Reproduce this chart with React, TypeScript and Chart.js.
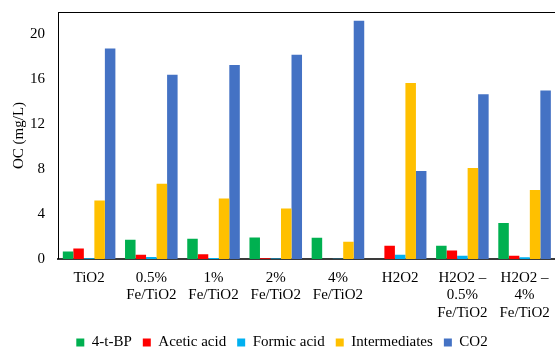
import React, { useEffect, useRef } from "react";
import { Chart, registerables } from "chart.js";

Chart.register(...registerables);

const categories: (string | string[])[] = [
  "TiO2",
  ["0.5%", "Fe/TiO2"],
  ["1%", "Fe/TiO2"],
  ["2%", "Fe/TiO2"],
  ["4%", "Fe/TiO2"],
  "H2O2",
  ["H2O2 \u2013", "0.5%", "Fe/TiO2"],
  ["H2O2 \u2013", "4%", "Fe/TiO2"],
];

const tbp = [0.65, 1.7, 1.79, 1.91, 1.88, 0, 1.17, 3.2];
const acetic = [0.92, 0.36, 0.42, 0.06, 0, 1.17, 0.74, 0.27];
const formic = [0.06, 0.18, 0.08, 0.04, 0.02, 0.36, 0.27, 0.15];
const intermediates = [5.2, 6.7, 5.38, 4.48, 1.52, 15.67, 8.1, 6.13];
const co2 = [18.74, 16.41, 17.28, 18.18, 21.23, 7.83, 14.68, 15.0];

const yTicks = [0, 4, 8, 12, 16, 20];

const FONT = "'Liberation Serif', 'Times New Roman', serif";

export default function App() {
  const ref = useRef<HTMLCanvasElement | null>(null);

  useEffect(() => {
    if (!ref.current) return;
    const chart = new Chart(ref.current, {
      type: "bar",
      data: {
        labels: categories as any,
        datasets: [
          { label: "4-t-BP", data: tbp, backgroundColor: "#00B050" },
          { label: "Acetic acid", data: acetic, backgroundColor: "#FF0000" },
          { label: "Formic acid", data: formic, backgroundColor: "#00B0F0" },
          { label: "Intermediates", data: intermediates, backgroundColor: "#FFC000" },
          { label: "CO2", data: co2, backgroundColor: "#4472C4" },
        ],
      },
      options: {
        responsive: false,
        animation: false,
        datasets: {
          bar: { categoryPercentage: 0.845, barPercentage: 1.0 },
        },
        layout: { padding: { left: 8, right: 4, top: 12, bottom: 0 } },
        plugins: {
          tooltip: { enabled: false },
          legend: {
            position: "bottom",
            labels: {
              boxWidth: 8,
              boxHeight: 8,
              padding: 11,
              color: "#000",
              font: { family: FONT, size: 15 },
            },
          },
        },
        scales: {
          x: {
            grid: { display: false, drawTicks: false },
            border: { display: true, color: "#3a3a3a", width: 2 },
            afterFit: (scale: any) => {
              scale.height = scale.height - 8;
            },
            ticks: {
              color: "#000",
              padding: 10,
              maxRotation: 0,
              autoSkip: false,
              font: { family: FONT, size: 15, lineHeight: 1.18 },
            },
          },
          x2: {
            position: "top",
            type: "category",
            labels: categories as any,
            grid: { display: false, drawTicks: false },
            border: { display: true, color: "#000", width: 1 },
            ticks: { display: false },
          },
          y: {
            min: 0,
            max: 22,
            afterBuildTicks: (scale: any) => {
              scale.ticks = yTicks.map((v) => ({ value: v }));
            },
            afterFit: (scale: any) => {
              scale.width = 50;
              scale.paddingTop = 0;
              scale.paddingBottom = 0;
            },
            grid: { display: false, drawTicks: false },
            border: { display: true, color: "#000", width: 1 },
            ticks: {
              color: "#000",
              padding: 13,
              font: { family: FONT, size: 15 },
            },
            title: {
              display: true,
              text: "OC (mg/L)",
              color: "#000",
              padding: { top: 2, bottom: 2 },
              font: { family: FONT, size: 15 },
            },
          },
        },
      },
    });
    return () => chart.destroy();
  }, []);

  return (
    <div
      style={{
        position: "fixed",
        left: 0,
        top: 0,
        width: 555,
        height: 348,
        overflow: "hidden",
        background: "#fff",
      }}
    >
      <canvas ref={ref} width={560} height={360} style={{ display: "block" }} />
    </div>
  );
}
